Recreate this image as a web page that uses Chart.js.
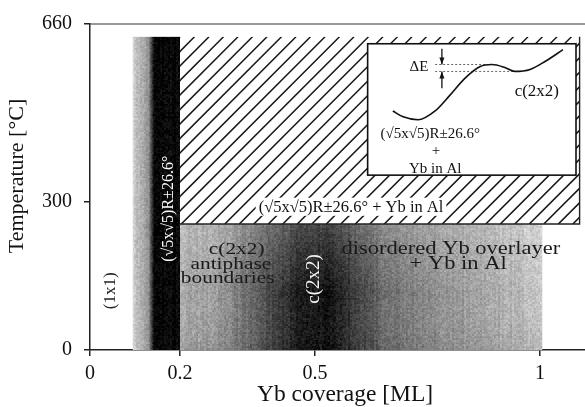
<!DOCTYPE html>
<html><head><meta charset="utf-8">
<script src="https://cdn.jsdelivr.net/npm/chart.js@4/dist/chart.umd.min.js"></script>
<style>html,body{margin:0;padding:0;background:#fff}#wrap{width:585px;height:407px}</style>
</head><body><div id="wrap"><canvas id="c"></canvas></div>
<script>
// Axis ticks and titles
const coverageTicks = [0, 0.2, 0.5, 1];
const temperatureTicks = [0, 300, 660];
const xTitle = 'Yb coverage [ML]';
const yTitle = 'Temperature [\u00B0C]';

// Phase boundaries: coverage in ML, temperature in °C
const stripCoverage = [0.095, 0.138, 0.2];   // grey edge start, dark band start, band end
const topTemperature = 634;
const transitionTemperature = 255;
const overlayerCoverageEnd = 1.005;
const hatchCoverageEnd = 1.088;

// Inset box bounds
const insetCoverage = [0.617, 1.08];
const insetTemperature = [354, 620];

// Inset energy curve
const curveCoverage = [0.673, 0.696, 0.729, 0.767, 0.800, 0.833, 0.867, 0.893, 0.922, 0.944, 0.978, 1.011, 1.051];
const curveLevel    = [484, 472, 466, 484, 516, 550, 574, 578, 572, 564, 568, 584, 608];

// ΔE reference levels and the arrow that marks them
const deltaEStart = 0.767;
const deltaEHigh = { level: 578, end: 0.893 };
const deltaELow  = { level: 564, end: 0.944 };
const arrowCoverage = 0.782;
const arrowEnds = [610, 530];

// Region labels
const labelText = ['(1x1)', '(\u221A5x\u221A5)R\u00B126.6\u00B0', '(\u221A5x\u221A5)R\u00B126.6\u00B0 + Yb in Al',
  'c(2x2)', 'antiphase', 'boundaries', 'disordered Yb overlayer', '+ Yb in Al', 'c(2x2)',
  '\u0394E', 'c(2x2)', '(\u221A5x\u221A5)R\u00B126.6\u00B0', '+', 'Yb in Al'];
const labelCoverage = [0.044, 0.173, 0.58, 0.326, 0.313, 0.306, 0.802, 0.818, 0.496, 0.731, 0.993, 0.756, 0.769, 0.767];
const labelTemperature = [120, 286, 290, 206, 176, 146, 206, 176, 144, 574, 526, 440, 404, 368];

const SERIF = '"Liberation Serif", "DejaVu Serif", serif';
const labelStyle = [
  { size: 17, rot: -90, color: '#222' },
  { size: 16, rot: -90, color: '#fff' },
  { size: 16.5, rot: 0, color: '#111', clear: true },
  { size: 17.5, rot: 0, color: '#1a1a1a', sx: 1.22 },
  { size: 17.5, rot: 0, color: '#1a1a1a', sx: 1.22 },
  { size: 17.5, rot: 0, color: '#1a1a1a', sx: 1.22 },
  { size: 18, rot: 0, color: '#1a1a1a', sx: 1.25 },
  { size: 18, rot: 0, color: '#1a1a1a', sx: 1.25 },
  { size: 19, rot: -90, color: '#f4f4f4' },
  { size: 15, rot: 0, color: '#111' },
  { size: 17, rot: 0, color: '#111' },
  { size: 15, rot: 0, color: '#111' },
  { size: 15, rot: 0, color: '#111' },
  { size: 15, rot: 0, color: '#111' }
];

// deterministic soft grain for the scanned-tone shading (2px cells)
function grain(ctx, x0, y0, w, h, amount) {
  const img = ctx.getImageData(x0, y0, w, h);
  const d = img.data;
  const hash = (a, b) => { let n = Math.sin(a * 12.9898 + b * 78.233) * 43758.5453; return n - Math.floor(n) - 0.5; };
  for (let j = 0; j < h; j++) {
    for (let i = 0; i < w; i++) {
      const gx = x0 + i, gy = y0 + j;
      const n = 0.6 * hash(gx >> 1, gy >> 1) + 0.4 * hash(gx, gy) + 0.35 * hash(gx >> 1, 7);
      const k = (j * w + i) * 4;
      const v = Math.max(0, Math.min(255, d[k] + n * amount));
      d[k] = d[k + 1] = d[k + 2] = v;
    }
  }
  ctx.putImageData(img, x0, y0);
}

const phasePlugin = {
  id: 'phases',
  beforeDatasetsDraw(chart) {
    const { ctx, scales: { x, y }, chartArea: a } = chart;
    const X = v => x.getPixelForValue(v), Y = v => y.getPixelForValue(v);
    ctx.save();

    // grey edge + dark (√5x√5) band
    const s0 = X(stripCoverage[0]), s1 = X(stripCoverage[1]), s2 = X(stripCoverage[2]);
    const yTop = Y(topTemperature), y0 = Y(0);
    const g1 = ctx.createLinearGradient(s0, 0, s2, 0);
    g1.addColorStop(0, '#d4d4d4');
    g1.addColorStop(0.15, '#b0b0b0');
    g1.addColorStop((s1 - s0 - 4) / (s2 - s0), '#9a9a9a');
    g1.addColorStop((s1 - s0 + 2) / (s2 - s0), '#0c0c0c');
    g1.addColorStop(1, '#050505');
    ctx.fillStyle = g1;
    ctx.fillRect(s0, yTop, s2 - s0, y0 - yTop);

    // lower region: c(2x2) / disordered overlayer
    const yT = Y(transitionTemperature), xe = X(overlayerCoverageEnd);
    const g2 = ctx.createLinearGradient(s2, 0, xe, 0);
    const stops = [[0.2, '#a8a8a8'], [0.28, '#9e9e9e'], [0.35, '#6c6c6c'], [0.42, '#3a3a3a'], [0.47, '#151515'],
      [0.54, '#121212'], [0.59, '#3c3c3c'], [0.66, '#707070'], [0.76, '#8c8c8c'], [0.88, '#a6a6a6'], [1.005, '#c4c4c4']];
    stops.forEach(([c, col]) => g2.addColorStop((c - 0.2) / (overlayerCoverageEnd - 0.2), col));
    ctx.fillStyle = g2;
    ctx.fillRect(s2, yT, xe - s2, y0 - yT);
    const g3 = ctx.createLinearGradient(0, yT, 0, y0);
    g3.addColorStop(0, 'rgba(255,255,255,0.22)');
    g3.addColorStop(0.55, 'rgba(255,255,255,0)');
    g3.addColorStop(1, 'rgba(0,0,0,0.08)');
    ctx.fillStyle = g3;
    ctx.fillRect(s2, yT, xe - s2, y0 - yT);
    grain(ctx, Math.round(s0), Math.round(yTop), Math.round(s2 - s0), Math.round(y0 - yTop), 40);
    grain(ctx, Math.round(s2), Math.round(yT), Math.round(xe - s2), Math.round(y0 - yT), 45);

    // hatched (√5x√5)R±26.6° + Yb in Al region
    const hx = X(hatchCoverageEnd);
    ctx.save();
    ctx.beginPath();
    ctx.rect(s2, yTop, hx - s2, yT - yTop);
    ctx.clip();
    ctx.strokeStyle = '#151515';
    ctx.lineWidth = 1.5;
    const h = yT - yTop;
    for (let k = s2 - h; k < hx + 10; k += 14.5) {
      ctx.beginPath();
      ctx.moveTo(k, yT);
      ctx.lineTo(k + h, yTop);
      ctx.stroke();
    }
    ctx.restore();
    ctx.strokeStyle = '#222';
    ctx.lineWidth = 1.4;
    ctx.beginPath();
    ctx.moveTo(s2, yT); ctx.lineTo(hx, yT); ctx.lineTo(hx, yTop);
    ctx.stroke();

    // inset box
    const ix0 = X(insetCoverage[0]), ix1 = X(insetCoverage[1]);
    const iy0 = Y(insetTemperature[1]), iy1 = Y(insetTemperature[0]);
    ctx.fillStyle = '#fff';
    ctx.fillRect(ix0, iy0, ix1 - ix0, iy1 - iy0);
    ctx.strokeStyle = '#111';
    ctx.lineWidth = 1.6;
    ctx.strokeRect(ix0, iy0, ix1 - ix0, iy1 - iy0);

    // top frame line
    ctx.strokeStyle = '#333';
    ctx.lineWidth = 1.2;
    ctx.beginPath();
    ctx.moveTo(a.left, Y(660)); ctx.lineTo(a.right, Y(660));
    ctx.stroke();
    ctx.restore();
  },
  afterDatasetsDraw(chart) {
    const { ctx, scales: { x, y } } = chart;
    const X = v => x.getPixelForValue(v), Y = v => y.getPixelForValue(v);
    ctx.save();

    // ΔE double arrow pointing at the two levels
    const ax = X(arrowCoverage);
    ctx.strokeStyle = '#111'; ctx.fillStyle = '#111'; ctx.lineWidth = 1.3;
    [[arrowEnds[0], deltaEHigh.level], [arrowEnds[1], deltaELow.level]].forEach(([from, to]) => {
      const yf = Y(from), yt = Y(to), d = Math.sign(yt - yf);
      ctx.beginPath(); ctx.moveTo(ax, yf); ctx.lineTo(ax, yt); ctx.stroke();
      ctx.beginPath();
      ctx.moveTo(ax, yt); ctx.lineTo(ax - 2.5, yt - d * 7); ctx.lineTo(ax + 2.5, yt - d * 7);
      ctx.closePath(); ctx.fill();
    });

    // labels
    ctx.textAlign = 'center';
    ctx.textBaseline = 'middle';
    labelText.forEach((t, i) => {
      const st = labelStyle[i];
      ctx.save();
      ctx.translate(X(labelCoverage[i]), Y(labelTemperature[i]));
      ctx.rotate(st.rot * Math.PI / 180);
      if (st.sx) ctx.scale(st.sx, 1);
      ctx.font = st.size + 'px ' + SERIF;
      if (st.clear) {
        const w = ctx.measureText(t).width;
        ctx.fillStyle = '#fff';
        ctx.fillRect(-w / 2 - 3, -st.size * 0.55, w + 6, st.size * 1.1);
      }
      ctx.fillStyle = st.color;
      ctx.fillText(t, 0, 1);
      ctx.restore();
    });

    // axis titles
    ctx.fillStyle = '#111';
    ctx.font = '23.5px ' + SERIF;
    ctx.fillText(xTitle, 345, 395);
    ctx.save();
    ctx.translate(17, 176);
    ctx.rotate(-Math.PI / 2);
    ctx.font = '22px ' + SERIF;
    ctx.fillText(yTitle, 0, 0);
    ctx.restore();
    ctx.restore();
  }
};

const pts = (xs, ys) => xs.map((v, i) => ({ x: v, y: ys[i] }));

new Chart(document.getElementById('c'), {
  type: 'scatter',
  data: {
    datasets: [
      { label: 'energy', data: pts(curveCoverage, curveLevel), showLine: true, borderColor: '#111',
        borderWidth: 1.6, pointRadius: 0, cubicInterpolationMode: 'monotone' },
      { label: 'high', data: pts([deltaEStart, deltaEHigh.end], [deltaEHigh.level, deltaEHigh.level]), showLine: true,
        borderColor: '#666', borderWidth: 1, borderDash: [2, 2], pointRadius: 0 },
      { label: 'low', data: pts([deltaEStart, deltaELow.end], [deltaELow.level, deltaELow.level]), showLine: true,
        borderColor: '#666', borderWidth: 1, borderDash: [2, 2], pointRadius: 0 }
    ]
  },
  options: {
    responsive: true,
    maintainAspectRatio: false,
    animation: false,
    layout: { padding: { top: 20, right: 0, left: 0, bottom: 0 } },
    plugins: { legend: { display: false }, tooltip: { enabled: false } },
    scales: {
      x: {
        type: 'linear', min: 0, max: 1.1,
        afterBuildTicks: s => { s.ticks = coverageTicks.map(v => ({ value: v })); },
        afterFit: s => { s.height = 57; },
        border: { display: true, color: '#222', width: 1.5 },
        grid: { display: true, drawOnChartArea: false, drawTicks: true, tickLength: 6, color: '#222', lineWidth: 1.5 },
        ticks: { color: '#111', padding: 6, font: { family: SERIF, size: 20 }, maxRotation: 0,
          callback: v => String(v) },
        title: { display: false }
      },
      y: {
        type: 'linear', min: 0, max: 660,
        afterBuildTicks: s => { s.ticks = temperatureTicks.map(v => ({ value: v })); },
        afterFit: s => { s.width = 90; },
        border: { display: true, color: '#222', width: 1.5 },
        grid: { display: true, drawOnChartArea: false, drawTicks: true, tickLength: 6, color: '#222', lineWidth: 1.5 },
        ticks: { color: '#111', padding: 12, font: { family: SERIF, size: 20 }, callback: v => String(v) },
        title: { display: false }
      }
    }
  },
  plugins: [phasePlugin]
});
</script>
</body></html>
